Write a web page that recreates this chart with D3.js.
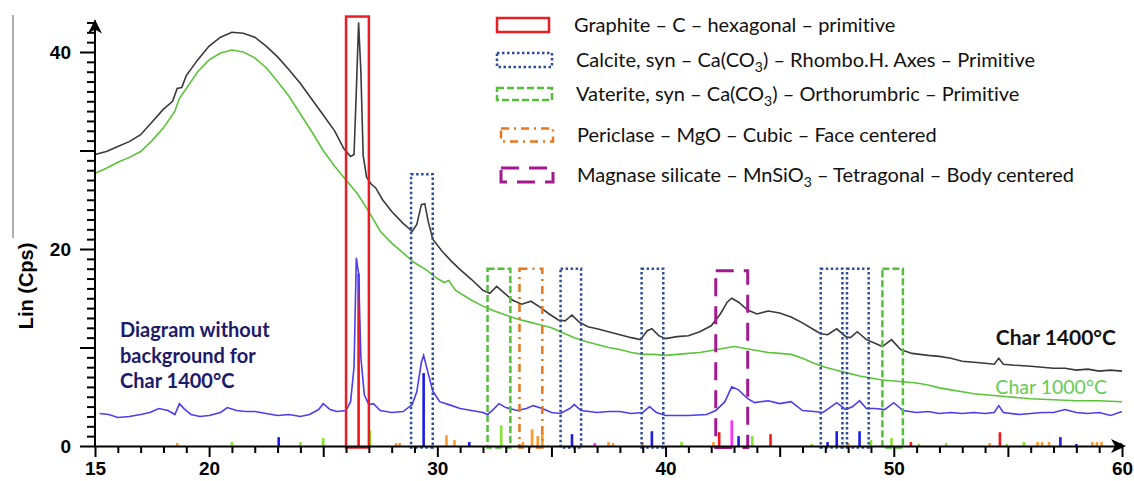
<!DOCTYPE html>
<html>
<head>
<meta charset="utf-8">
<title>XRD patterns of chars</title>
<script src="https://cdn.jsdelivr.net/npm/d3@7"></script>
<style>
body { margin: 0; background: #fff; }
svg text { font-family: "Liberation Sans", Arial, sans-serif; }
.axis .tick text { font-weight: bold; font-size: 19px; fill: #000; }
.axis path, .axis line { stroke: #000; stroke-width: 2; }
.legend text { font-family: Lato, sans-serif; font-size: 20px; fill: #111; font-variant-ligatures: none; }
.note { font-family: Lato, sans-serif; font-weight: bold; font-size: 20px; }
</style>
</head>
<body>
<svg id="chart" width="1134" height="481"></svg>
<script>
// ---- data ----
var xLabels = [15, 20, 30, 40, 50, 60];
var yLabels = [0, 20, 40];

// Char 1400°C (black)
var char1400 = [[15.0,29.6],[15.5,29.9],[16.0,30.4],[16.5,30.9],[17.0,31.6],[17.5,32.9],[18.0,34.2],[18.4,35.0],[18.6,36.3],[18.8,36.4],
  [19.0,37.6],[19.5,39.2],[20.0,40.6],[20.5,41.5],[21.0,42.0],[21.5,41.9],[22.0,41.5],[22.5,40.6],[23.0,39.5],[23.5,38.2],
  [24.0,36.8],[24.5,35.2],[25.0,33.6],[25.5,32.0],[25.9,30.2],[26.2,29.4],[26.35,29.6],[26.45,36.0],[26.55,43.0],[26.65,38.0],
  [26.75,29.5],[26.9,27.3],[27.1,26.6],[27.3,26.2],[27.6,25.0],[28.0,23.8],[28.5,22.6],[28.9,21.8],[29.1,22.5],[29.3,24.5],
  [29.45,24.6],[29.6,22.8],[29.8,21.0],[30.2,19.8],[30.6,18.8],[31.0,17.9],[31.5,16.9],[32.0,15.8],[32.3,15.5],[32.6,16.2],
  [32.9,15.6],[33.3,14.8],[33.7,14.4],[34.1,14.7],[34.5,14.1],[34.9,13.4],[35.3,12.8],[35.6,12.7],[35.9,13.3],[36.2,12.6],
  [36.6,12.1],[37.0,11.9],[37.5,11.6],[38.0,11.3],[38.5,11.0],[38.9,10.8],[39.2,11.7],[39.4,11.9],[39.7,11.2],[40.0,10.9],
  [40.5,11.1],[41.0,11.2],[41.5,11.6],[42.0,12.2],[42.4,13.4],[42.7,14.6],[42.9,15.0],[43.2,14.6],[43.6,13.8],[44.0,13.4],
  [44.5,13.7],[45.0,13.5],[45.5,13.1],[46.0,12.5],[46.5,11.8],[46.8,11.4],[47.1,11.3],[47.5,11.9],[47.9,11.1],[48.1,11.0],
  [48.4,11.6],[48.8,10.8],[49.2,10.4],[49.5,10.1],[49.9,10.8],[50.3,9.8],[50.8,9.4],[51.5,9.2],[52.0,9.1],[52.5,8.9],
  [53.0,8.6],[53.5,8.5],[54.0,8.4],[54.4,8.3],[54.6,8.9],[54.8,8.3],[55.3,8.2],[56.0,8.1],[56.5,8.0],[57.0,7.9],
  [57.5,7.9],[58.0,7.7],[58.5,7.8],[59.0,7.6],[59.5,7.7],[60.0,7.6]];

// Char 1000°C (green)
var char1000 = [[15.0,27.7],[15.5,28.2],[16.0,28.8],[16.5,29.3],[17.0,29.9],[17.5,31.0],[18.0,32.3],[18.5,34.0],[18.7,35.3],[19.0,36.3],
  [19.5,38.0],[20.0,39.2],[20.5,39.9],[21.0,40.2],[21.5,40.0],[22.0,39.4],[22.5,38.4],[23.0,37.0],[23.5,35.5],[24.0,33.7],
  [24.5,31.9],[25.0,30.0],[25.5,28.4],[26.0,27.0],[26.5,25.6],[27.0,23.8],[27.5,21.8],[28.0,20.6],[28.5,19.6],[29.0,18.6],
  [29.5,17.9],[30.0,17.0],[30.3,16.6],[30.5,16.8],[30.8,15.8],[31.5,14.8],[32.0,14.2],[32.5,13.7],[33.0,13.3],[33.5,12.9],
  [34.0,12.6],[34.5,12.3],[35.0,12.0],[35.5,11.5],[36.0,11.0],[36.5,10.6],[37.0,10.3],[37.5,10.0],[38.0,9.8],[38.5,9.5],
  [39.0,9.3],[39.5,9.3],[40.0,9.2],[40.5,9.3],[41.0,9.4],[41.5,9.5],[42.0,9.7],[42.5,9.9],[43.0,10.1],[43.5,9.9],
  [44.0,9.7],[44.5,9.5],[45.0,9.4],[45.5,9.3],[46.0,8.9],[46.5,8.4],[47.0,8.0],[47.5,7.7],[48.0,7.4],[48.5,7.1],
  [49.0,6.9],[49.5,6.7],[50.0,6.6],[50.5,6.5],[51.0,6.4],[51.5,6.2],[52.0,5.9],[52.5,5.7],[53.0,5.5],[53.5,5.3],
  [54.0,5.2],[54.5,5.1],[55.0,5.0],[55.5,4.9],[56.0,4.8],[57.0,4.7],[58.0,4.6],[59.0,4.6],[60.0,4.5]];

// Char 1400°C without background (blue)
var noBackground = [[15.2,3.3],[15.6,3.2],[16.0,2.9],[16.5,3.0],[17.0,3.2],[17.4,3.4],[17.8,3.8],[18.2,3.6],[18.5,3.2],[18.7,4.3],
  [18.9,3.8],[19.2,3.2],[19.6,3.0],[20.0,3.1],[20.5,3.4],[20.8,3.9],[21.2,3.6],[21.6,3.5],[22.0,3.5],[22.5,3.3],
  [23.0,3.1],[23.5,3.2],[24.0,3.0],[24.4,3.2],[24.8,3.7],[25.0,4.3],[25.3,3.7],[25.6,3.5],[26.0,3.6],[26.2,4.5],
  [26.35,8.0],[26.45,19.1],[26.55,17.5],[26.65,9.0],[26.8,5.2],[27.0,4.2],[27.2,4.3],[27.5,3.6],[28.0,3.4],[28.5,3.5],
  [28.9,4.2],[29.1,5.5],[29.3,8.5],[29.4,9.2],[29.55,7.8],[29.8,5.6],[30.1,4.5],[30.5,4.2],[31.0,3.8],[31.5,3.6],
  [32.0,3.4],[32.2,3.2],[32.4,3.6],[32.7,4.3],[33.0,3.9],[33.5,3.6],[33.9,3.8],[34.2,4.1],[34.6,3.8],[35.0,3.4],
  [35.4,3.3],[35.8,3.8],[36.0,4.2],[36.3,3.6],[37.0,3.4],[37.5,3.5],[38.0,3.5],[38.5,3.3],[39.0,3.4],[39.3,4.0],
  [39.6,3.4],[40.0,3.1],[41.0,3.1],[41.8,3.2],[42.2,3.6],[42.6,4.5],[42.9,6.0],[43.2,5.7],[43.6,4.8],[43.9,4.4],
  [44.5,4.6],[45.0,4.3],[45.5,4.5],[46.0,3.6],[46.5,3.5],[46.9,3.4],[47.2,3.9],[47.5,4.4],[47.9,3.7],[48.2,4.0],
  [48.5,4.6],[48.8,3.8],[49.2,3.8],[49.6,3.7],[50.0,4.4],[50.4,3.6],[51.0,3.4],[51.5,3.5],[52.0,3.3],[52.5,3.4],
  [53.0,3.3],[53.5,3.4],[54.0,3.3],[54.4,3.4],[54.6,4.1],[54.8,3.4],[55.5,3.2],[56.0,3.3],[56.5,3.4],[57.0,3.4],
  [57.5,3.7],[58.0,3.4],[58.5,3.3],[59.0,3.4],[59.5,3.1],[60.0,3.5]];

// reference pattern sticks [2theta, height]
var sticksGraphite = [[26.55,17.5],[42.35,1.4],[44.6,1.2],[50.75,0.4],[54.65,1.4],[59.95,0.3]];
var sticksCalcite = [[23.05,0.9],[29.4,7.4],[31.4,0.4],[35.9,1.2],[39.4,1.5],[43.2,1.0],[47.1,0.4],[47.5,1.5],[48.5,1.5],[57.3,0.9],[58.0,0.2]];
var sticksVaterite = [[21.0,0.4],[24.0,0.4],[25.0,0.8],[27.05,1.6],[32.8,2.1],[40.7,0.4],[43.8,1.0],[46.4,0.2],[49.0,0.6],[49.9,0.8],[51.1,0.2],[52.3,0.3],[54.95,0.2],[55.7,0.4]];
var sticksPericlase = [[18.6,0.3],[28.2,0.3],[28.35,0.3],[30.4,1.1],[30.75,0.6],[33.75,0.4],[34.15,1.7],[34.4,1.0],[34.6,1.3],[37.5,0.4],[37.7,0.3],[39.0,0.4],[42.1,0.4],[48.0,0.3],[54.2,0.3],[56.3,0.4],[56.5,0.4],[56.8,0.4],[58.7,0.4],[58.9,0.4],[59.1,0.4]];
var sticksMnSiO3 = [[36.9,0.3],[42.9,2.6]];

// phase boxes [from, to, top]
var boxesGraphite = [[26.0, 27.0, 43.6]];
var boxesCalcite = [[28.85, 29.8, 27.6], [35.4, 36.3, 18.0], [38.95, 39.9, 18.0], [46.8, 47.75, 18.0], [47.95, 48.9, 18.0]];
var boxesVaterite = [[32.2, 33.2, 18.0], [49.5, 50.4, 18.0]];
var boxesPericlase = [[33.6, 34.6, 18.0]];
var boxesMnSiO3 = [[42.2, 43.6, 17.8]];

var phaseNames = [
  ["Graphite – C – hexagonal – primitive"],
  ["Calcite, syn – Ca(CO", "3", ") – Rhombo.H. Axes – Primitive"],
  ["Vaterite, syn – Ca(CO", "3", ") – Orthorumbric – Primitive"],
  ["Periclase – MgO – Cubic – Face centered"],
  ["Magnase silicate – MnSiO", "3", " – Tetragonal – Body centered"]
];

// ---- drawing ----
var svg = d3.select('#chart');

var x = d3.scaleLinear().domain([15, 60]).range([95, 1122]);
var y = d3.scaleLinear().domain([0, 40]).range([446, 52]);

var phaseStyles = [
  { color: '#ec1c24', dash: null, width: 2.5 },
  { color: '#2e4c9c', dash: '2.5,2.5', width: 2.5 },
  { color: '#55bf3c', dash: '7,3', width: 2.5 },
  { color: '#e8771e', dash: '8,5,2,5', width: 2.5 },
  { color: '#a3198f', dash: '18,10', width: 3 }
];
var phaseBoxes = [boxesGraphite, boxesCalcite, boxesVaterite, boxesPericlase, boxesMnSiO3];

// old frame edge on the left
svg.append('line').attr('x1', 13).attr('x2', 13).attr('y1', 15).attr('y2', 238)
  .attr('stroke', '#777').attr('stroke-width', 1.2);

// sticks
var stickSets = [
  { data: sticksGraphite, color: '#f01818' },
  { data: sticksCalcite, color: '#1c1ce8' },
  { data: sticksVaterite, color: '#88e030' },
  { data: sticksPericlase, color: '#ff9a2a' },
  { data: sticksMnSiO3, color: '#ff2cff' }
];
stickSets.forEach(function (s) {
  svg.append('g').selectAll('rect')
    .data(s.data)
    .enter().append('rect')
    .attr('x', d => x(d[0]) - 1.3)
    .attr('width', 2.6)
    .attr('y', d => y(d[1]))
    .attr('height', d => y(0) - y(d[1]))
    .attr('fill', s.color);
});

// curves
var line = d3.line().x(d => x(d[0])).y(d => y(d[1]));
svg.append('path').datum(char1000).attr('d', line)
  .attr('fill', 'none').attr('stroke', '#5cc43a').attr('stroke-width', 1.6);
svg.append('path').datum(char1400).attr('d', line)
  .attr('fill', 'none').attr('stroke', '#3a3a3a').attr('stroke-width', 1.6);
svg.append('path').datum(noBackground).attr('d', line)
  .attr('fill', 'none').attr('stroke', '#4c3cf2').attr('stroke-width', 1.6);

// phase boxes on the plot
phaseBoxes.forEach(function (boxes, i) {
  var st = phaseStyles[i];
  svg.append('g').selectAll('rect')
    .data(boxes)
    .enter().append('rect')
    .attr('x', d => x(d[0]))
    .attr('width', d => x(d[1]) - x(d[0]))
    .attr('y', d => y(d[2]))
    .attr('height', d => y(-0.15) - y(d[2]))
    .attr('fill', 'none')
    .attr('stroke', st.color)
    .attr('stroke-width', st.width)
    .attr('stroke-dasharray', st.dash);
});

// x axis
var xAxis = svg.append('g').attr('class', 'axis')
  .attr('transform', 'translate(0,' + y(0) + ')')
  .call(d3.axisBottom(x).tickValues(d3.range(15, 61)).tickSizeOuter(0)
    .tickFormat(d => xLabels.indexOf(d) >= 0 ? d : ''));
xAxis.selectAll('.tick line').attr('y2', d => d % 5 === 0 ? 11 : 7);
xAxis.selectAll('.tick text').attr('y', 16).attr('dy', '0.71em');

// y axis
var yAxis = svg.append('g').attr('class', 'axis')
  .attr('transform', 'translate(' + x(15) + ',0)')
  .call(d3.axisLeft(y).tickValues(d3.range(0, 44)).tickSizeOuter(0)
    .tickFormat(d => yLabels.indexOf(d) >= 0 ? d : ''));
yAxis.select('.domain').attr('d', 'M0,' + y(0) + 'V' + y(43.2));
yAxis.selectAll('.tick line').attr('x2', d => d % 10 === 0 ? -15 : -8);
yAxis.selectAll('.tick text').attr('x', -24);

// arrow heads
svg.append('path')
  .attr('d', 'M' + (x(60) + 4) + ',' + y(0) + 'l-15,-7l4,7l-4,7z')
  .attr('fill', '#000');
svg.append('path')
  .attr('d', 'M' + x(15) + ',' + (y(43.2) - 1) + 'l-7,14l7,-4l7,4z')
  .attr('fill', '#000');

// y axis title
svg.append('text')
  .attr('transform', 'translate(33,' + 286 + ') rotate(-90)')
  .attr('text-anchor', 'middle')
  .style('font-weight', 'bold').style('font-size', '20px')
  .text('Lin (Cps)');

// legend
var legend = svg.append('g').attr('class', 'legend');
var legendRows = [
  { y: 25, bx: 497, bw: 52, bh: 14, tx: 574 },
  { y: 60, bx: 497, bw: 55, bh: 14, tx: 576 },
  { y: 94, bx: 497, bw: 55, bh: 12, tx: 576 },
  { y: 135, bx: 501, bw: 52, bh: 13, tx: 577 },
  { y: 175, bx: 501, bw: 52, bh: 14, tx: 577 }
];
legendRows.forEach(function (r, i) {
  var st = phaseStyles[i];
  legend.append('rect')
    .attr('x', r.bx).attr('y', r.y - r.bh / 2)
    .attr('width', r.bw).attr('height', r.bh)
    .attr('fill', 'none')
    .attr('stroke', st.color)
    .attr('stroke-width', st.width)
    .attr('stroke-dasharray', st.dash);
  var t = legend.append('text').attr('x', r.tx).attr('y', r.y + 7);
  var parts = phaseNames[i];
  t.append('tspan').text(parts[0]);
  if (parts.length > 1) {
    t.append('tspan').attr('dy', 5).style('font-size', '14px').text(parts[1]);
    t.append('tspan').attr('dy', -5).text(parts[2]);
  }
});

// annotations
var note = svg.append('text').attr('class', 'note').attr('fill', '#1c1a6c');
['Diagram without', 'background  for', 'Char 1400°C'].forEach(function (s, i) {
  note.append('tspan').attr('x', 120).attr('y', 337 + i * 25.5).text(s);
});
svg.append('text').attr('class', 'note').attr('x', 1116).attr('y', 345)
  .attr('text-anchor', 'end').attr('fill', '#111').style('font-size', '21px').text('Char 1400°C');
svg.append('text').attr('x', 1107).attr('y', 394)
  .attr('text-anchor', 'end').attr('fill', '#66cc55')
  .style('font-family', 'Lato, sans-serif').style('font-size', '19.5px')
  .text('Char 1000°C');
</script>
</body>
</html>
